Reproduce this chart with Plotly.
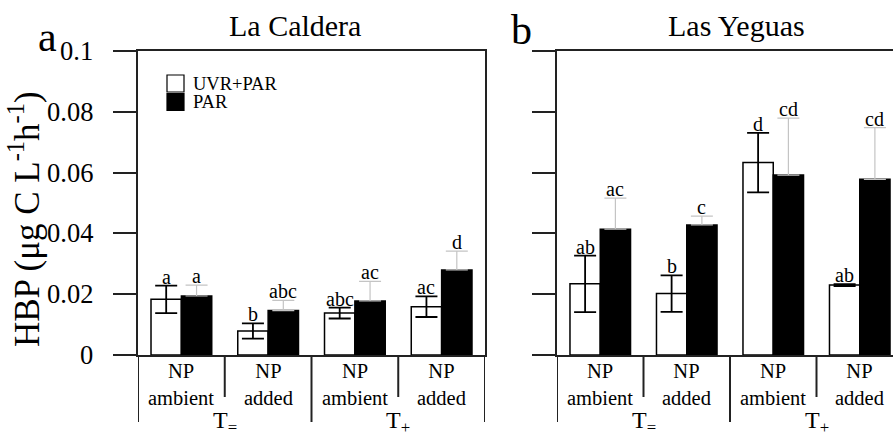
import plotly.graph_objects as go

W, H = 893, 435
FONT = "Liberation Serif, Times New Roman, serif"
TOP, BOT = 51, 355  # plot area pixel extents (y)

groups = [0, 1, 2, 3]
group_labels = ["NP<br>ambient", "NP<br>added", "NP<br>ambient", "NP<br>added"]
temp_labels = ["T<sub>=</sub>", "T<sub>+</sub>"]
series_names = ["UVR+PAR", "PAR"]

# La Caldera
lc_uvr = [0.0183, 0.0079, 0.0138, 0.0159]
lc_uvr_err = [0.0045, 0.0025, 0.0018, 0.0034]
lc_par = [0.0194, 0.0146, 0.0178, 0.0280]
lc_par_err = [0.0036, 0.0034, 0.0064, 0.0062]
lc_uvr_lab = ["a", "b", "abc", "ac"]
lc_par_lab = ["a", "abc", "ac", "d"]

# Las Yeguas
ly_uvr = [0.0234, 0.0202, 0.0633, 0.0230]
ly_uvr_err = [0.0093, 0.0060, 0.0098, 0.0003]
ly_par = [0.0414, 0.0428, 0.0592, 0.0578]
ly_par_err = [0.0102, 0.0029, 0.0187, 0.0170]
ly_uvr_lab = ["ab", "b", "d", "ab"]
ly_par_lab = ["ac", "c", "cd", "cd"]

tick_vals = [0, 0.02, 0.04, 0.06, 0.08, 0.1]
tick_text = ["0", "0.02", "0.04", "0.06", "0.08", "0.1"]

BW = 0.35
LINE = "#222222"
GRAY = "#c4c4c4"

fig = go.Figure()


def add_panel(xa, ya, uvr, uvr_err, par, par_err):
    fig.add_trace(go.Bar(x=groups, y=uvr, width=BW, offset=-BW, xaxis=xa, yaxis=ya,
                         marker=dict(color="white", line=dict(color="black", width=1.5)),
                         error_y=dict(type="data", array=uvr_err, symmetric=True,
                                      color="black", thickness=1.8, width=11),
                         showlegend=False, name=series_names[0]))
    fig.add_trace(go.Bar(x=groups, y=par, width=BW, offset=0, xaxis=xa, yaxis=ya,
                         marker=dict(color="black", line=dict(color="black", width=1.5)),
                         error_y=dict(type="data", array=par_err,
                                      arrayminus=[0] * len(par_err), symmetric=False,
                                      color=GRAY, thickness=1.2, width=11),
                         showlegend=False, name=series_names[1]))


add_panel("x", "y", lc_uvr, lc_uvr_err, lc_par, lc_par_err)
add_panel("x2", "y2", ly_uvr, ly_uvr_err, ly_par, ly_par_err)

ann = []


def letters(xref, yref, vals, errs, labs, dx):
    for g, v, e, t in zip(groups, vals, errs, labs):
        ann.append(dict(x=g + dx, y=v + e, xref=xref, yref=yref, text=t, showarrow=False,
                        yanchor="bottom", xanchor="center", yshift=-4,
                        font=dict(family=FONT, size=20, color="black")))


letters("x", "y", lc_uvr, lc_uvr_err, lc_uvr_lab, -BW / 2)
letters("x", "y", lc_par, lc_par_err, lc_par_lab, BW / 2)
letters("x2", "y2", ly_uvr, ly_uvr_err, ly_uvr_lab, -BW / 2)
letters("x2", "y2", ly_par, ly_par_err, ly_par_lab, BW / 2)

# y tick labels (left panel), placed left of the outside ticks
for v, t in zip(tick_vals, tick_text):
    ann.append(dict(x=95 / W, y=v, xref="paper", yref="y", text=t, showarrow=False,
                    xanchor="right", yanchor="middle",
                    font=dict(family=FONT, size=26.5, color="black")))

shapes = []
short_px = 397
long_px = 422


def py(p):
    # pixel row -> paper y (paper spans the plot area)
    return (BOT - p) / (BOT - TOP)


for xref in ["x", "x2"]:
    for g in groups:
        ann.append(dict(x=g, y=py(384), xref=xref, yref="paper", text=group_labels[g],
                        showarrow=False, yanchor="middle", xanchor="center",
                        font=dict(family=FONT, size=20.5, color="black")))
    for i, t in enumerate(temp_labels):
        ann.append(dict(x=0.5 + 2 * i, y=py(422), xref=xref, yref="paper", text=t,
                        showarrow=False, yanchor="middle", xanchor="center",
                        font=dict(family=FONT, size=24, color="black")))
    for b in [-0.5, 0.5, 1.5, 2.5, 3.5]:
        if xref == "x2" and b == 3.5:
            continue
        end = short_px if b in (0.5, 2.5) else long_px
        shapes.append(dict(type="line", xref=xref, yref="paper", x0=b, x1=b,
                           y0=py(BOT), y1=py(end), line=dict(color=LINE, width=2)))

# legend
legend_items = [(75, "white", series_names[0]), (93.5, "black", series_names[1])]
for top, col, name in legend_items:
    shapes.append(dict(type="rect", xref="paper", yref="paper", x0=167 / W, x1=184 / W,
                       y0=py(top), y1=py(top + 17), fillcolor=col,
                       line=dict(color="black", width=1.2)))
    ann.append(dict(x=191 / W, y=py(top + 8.5), xref="paper", yref="paper", text=name,
                    showarrow=False, xanchor="left", yanchor="middle",
                    font=dict(family=FONT, size=18.5, color="black")))

# titles and panel letters
ann += [
    dict(x=295 / W, y=py(25), xref="paper", yref="paper", text="La Caldera", showarrow=False,
         xanchor="center", yanchor="middle", font=dict(family=FONT, size=30, color="black")),
    dict(x=736 / W, y=py(25), xref="paper", yref="paper", text="Las Yeguas", showarrow=False,
         xanchor="center", yanchor="middle", font=dict(family=FONT, size=30, color="black")),
    dict(x=47 / W, y=py(37), xref="paper", yref="paper", text="a", showarrow=False,
         xanchor="center", yanchor="middle", font=dict(family=FONT, size=42, color="black")),
    dict(x=521 / W, y=py(30), xref="paper", yref="paper", text="b", showarrow=False,
         xanchor="center", yanchor="middle", font=dict(family=FONT, size=42, color="black")),
    dict(x=25 / W, y=py(219), xref="paper", yref="paper",
         text="HBP (\u03bcg C L<sup>-1</sup>h<sup>-1</sup>)", showarrow=False, textangle=-90,
         xanchor="center", yanchor="middle", font=dict(family=FONT, size=35, color="black")),
]

xcommon = dict(showticklabels=False, ticks="", showgrid=False, zeroline=False,
               showline=True, linecolor=LINE, linewidth=2, mirror=True, fixedrange=True)
ycommon = dict(range=[0, 0.1], tickvals=tick_vals, ticks="outside", ticklen=23, tickwidth=2,
               tickcolor=LINE, showgrid=False, zeroline=False, showline=True,
               linecolor=LINE, linewidth=2, showticklabels=False)

fig.update_layout(
    width=W, height=H,
    margin=dict(l=0, r=0, t=TOP, b=H - BOT),
    paper_bgcolor="white", plot_bgcolor="white",
    barmode="overlay",
    showlegend=False,
    xaxis=dict(domain=[138 / W, 485 / W], range=[-0.5, 3.5], **xcommon),
    xaxis2=dict(domain=[557 / W, 1.0], range=[-0.5, -0.5 + 336 / 86.5], anchor="y2", **xcommon),
    yaxis=dict(anchor="x", mirror=True, **ycommon),
    yaxis2=dict(anchor="x2", mirror=False, **ycommon),
    annotations=ann,
    shapes=shapes,
)

fig.write_html("out.html")
